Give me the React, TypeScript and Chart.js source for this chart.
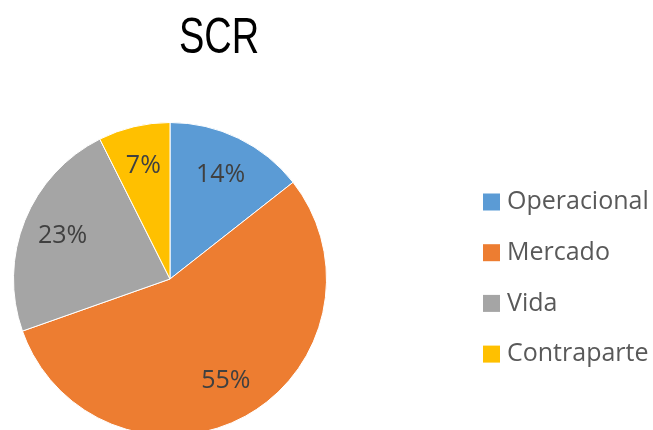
import React, { useEffect, useRef } from "react";
import { Chart, registerables } from "chart.js";

Chart.register(...registerables);

const TITLE = "SCR";
const categories = ["Operacional", "Mercado", "Vida", "Contraparte"];
const shares = [14.4, 55.2, 23.0, 7.4];
const colors = ["#5B9BD5", "#ED7D31", "#A5A5A5", "#FFC000"];

const LABEL_FONT = "'Open Sans', 'Noto Sans', sans-serif";

const sliceLabels = {
  id: "sliceLabels",
  afterDatasetsDraw(chart: any) {
    const ctx = chart.ctx;
    const meta = chart.getDatasetMeta(0);
    const data = chart.data.datasets[0].data as number[];
    const total = data.reduce((a, b) => a + b, 0);
    ctx.save();
    ctx.font = `25px ${LABEL_FONT}`;
    ctx.fillStyle = "#404040";
    ctx.textAlign = "center";
    ctx.textBaseline = "middle";
    meta.data.forEach((arc: any, i: number) => {
      const p = arc.getProps(["x", "y", "startAngle", "endAngle", "outerRadius"], true);
      const mid = (p.startAngle + p.endAngle) / 2;
      const d = p.outerRadius * 0.74;
      const txt = Math.round((data[i] / total) * 100) + "%";
      ctx.fillText(txt, p.x + Math.cos(mid) * d, p.y + Math.sin(mid) * d);
    });
    ctx.restore();
  },
};

const titleAndLegend = {
  id: "titleAndLegend",
  afterDraw(chart: any) {
    const ctx = chart.ctx;
    ctx.save();
    // title (condensed look)
    ctx.save();
    ctx.translate(219, 53);
    ctx.scale(0.76, 1);
    ctx.font = "50px 'Liberation Sans', Arial, sans-serif";
    ctx.fillStyle = "#000000";
    ctx.textAlign = "center";
    ctx.textBaseline = "alphabetic";
    ctx.fillText(TITLE, 0, 0);
    ctx.restore();
    // legend
    const x0 = 483;
    const y0 = 202;
    const step = 50.7;
    const box = 17;
    ctx.font = `25px ${LABEL_FONT}`;
    ctx.textAlign = "left";
    ctx.textBaseline = "middle";
    const labels = chart.data.labels as string[];
    const bg = chart.data.datasets[0].backgroundColor as string[];
    labels.forEach((lab, i) => {
      const cy = y0 + i * step;
      ctx.fillStyle = bg[i];
      ctx.fillRect(x0, cy - box / 2, box, box);
      ctx.fillStyle = "#595959";
      ctx.fillText(lab, x0 + box + 7, cy);
    });
    ctx.restore();
  },
};

export default function App() {
  const ref = useRef<HTMLCanvasElement>(null);
  useEffect(() => {
    document.body.style.margin = "0";
    document.body.style.overflow = "hidden";
    const chart = new Chart(ref.current!, {
      type: "pie",
      data: {
        labels: categories,
        datasets: [
          {
            data: shares,
            backgroundColor: colors,
            borderColor: "#ffffff",
            borderWidth: 1,
          },
        ],
      },
      options: {
        responsive: false,
        animation: false,
        layout: { padding: { left: 13, top: 122, right: 326, bottom: 9 } },
        plugins: {
          legend: { display: false },
          title: { display: false },
          tooltip: { enabled: false },
        },
      },
      plugins: [sliceLabels, titleAndLegend],
    });
    return () => chart.destroy();
  }, []);
  return (
    <div style={{ width: 653, height: 430, overflow: "hidden", background: "#fff" }}>
      <canvas ref={ref} width={653} height={445} />
    </div>
  );
}
